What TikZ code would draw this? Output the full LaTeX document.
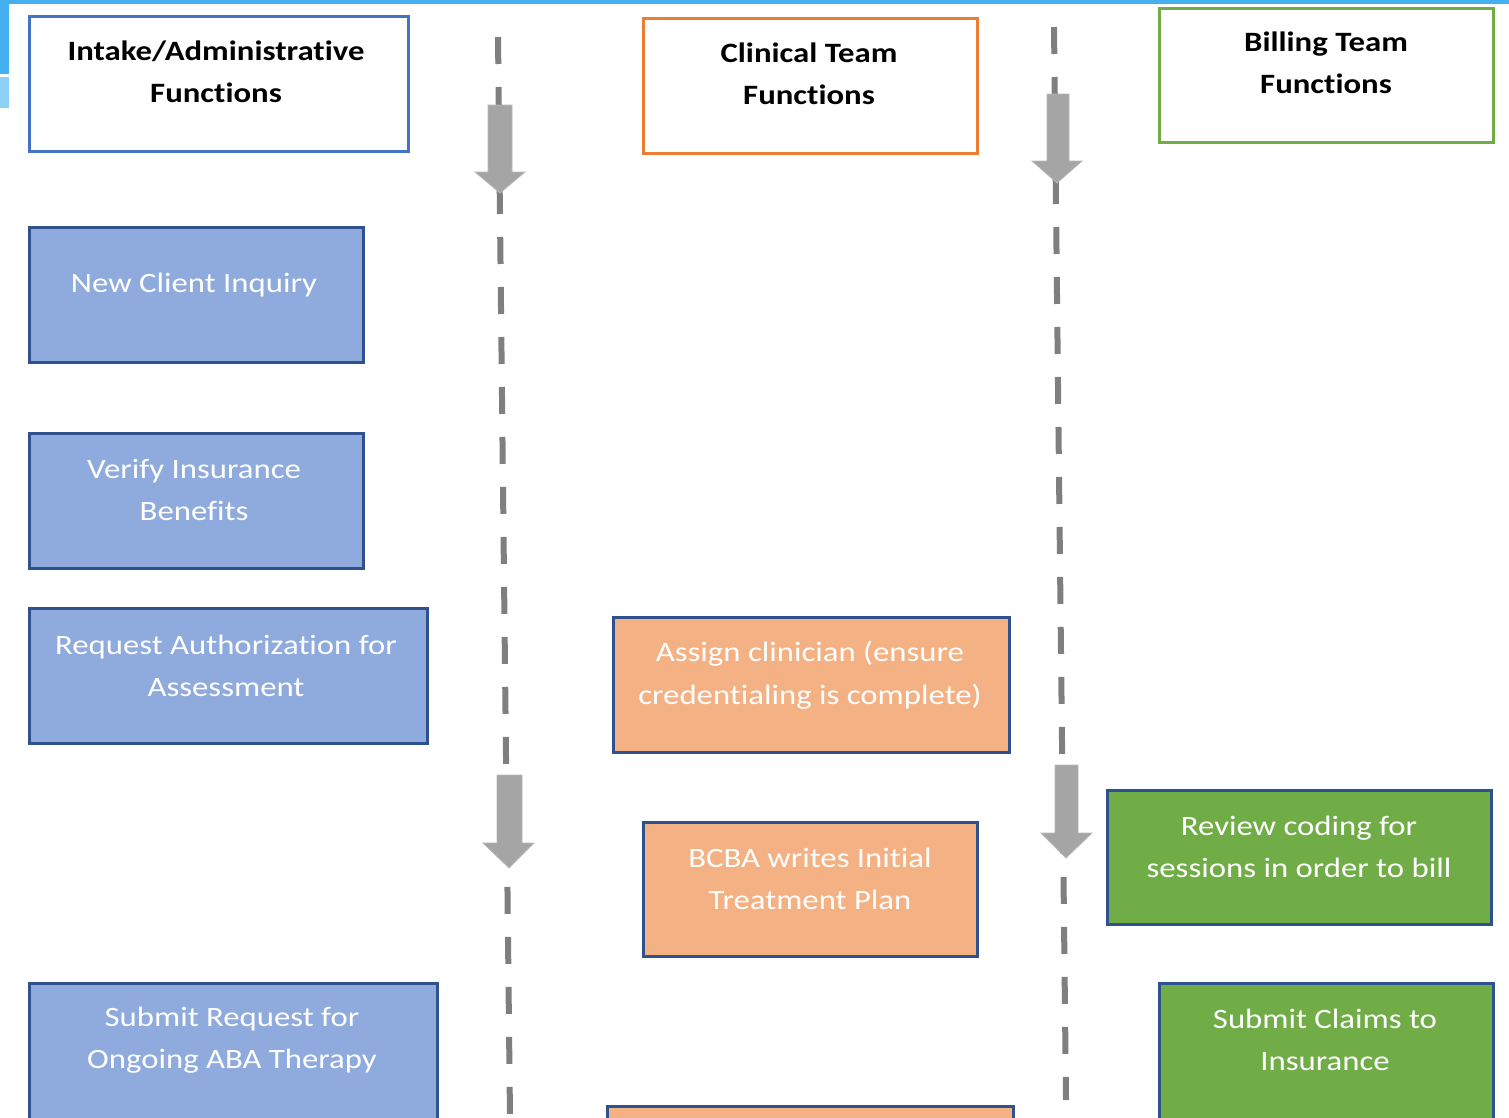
\documentclass[tikz,border=0pt]{standalone}
\usepackage{fontspec}
\setmainfont{Carlito}[FakeStretch=1.17, Ligatures={NoCommon}]
\definecolor{hdrblue}{HTML}{4472C4}
\definecolor{hdrorange}{HTML}{ED7D31}
\definecolor{hdrgreen}{HTML}{70AD47}
\definecolor{boxblue}{HTML}{8FAADC}
\definecolor{boxorange}{HTML}{F4B183}
\definecolor{boxgreen}{HTML}{70AD47}
\definecolor{boxline}{HTML}{2F528F}
\definecolor{lanegray}{HTML}{7F7F7F}
\definecolor{arrowgray}{HTML}{A5A5A5}
\definecolor{topbar}{HTML}{45B0F0}
\definecolor{topbarlight}{HTML}{8DD0F5}
\tikzset{
  hdrbox/.style={draw=#1, line width=3pt, fill=white},
  fillbox/.style={draw=boxline, line width=3pt, fill=#1},
  hdrtext/.style={font=\fontsize{28}{42.5}\selectfont\bfseries, align=center, text=black, inner sep=0pt},
  boxtext/.style={font=\fontsize{28}{42.5}\selectfont, align=center, text=white, inner sep=0pt},
  lane/.style={draw=lanegray, line width=6pt, dash pattern=on 27pt off 23pt},
  blockarrow/.style={fill=arrowgray, draw=arrowgray!80!white, line width=0.8pt}
}
\begin{document}
\begin{tikzpicture}[x=1pt,y=-1pt]
\useasboundingbox (0,0) rectangle (1509,1117);
\clip (0,0) rectangle (1509,1117);
% top decoration
\fill[topbar] (0,0) rectangle (1509,4);
\fill[topbar] (0,0) rectangle (9,74);
\fill[topbarlight] (0,77) rectangle (9,108);

% swimlane separators
\coordinate (l1top) at (498,37);
\coordinate (l1bot) at (510,1117);
\coordinate (l2top) at (1054,27);
\coordinate (l2bot) at (1066,1100);
\draw[lane] (l1top) -- (l1bot);
\draw[lane] (l2top) -- (l2bot);

% block arrows
\fill[blockarrow] (488,105) -- (512,105) -- (512,172) -- (525,172) -- (500,193) -- (475,172) -- (488,172) -- cycle;
\fill[blockarrow] (497,775) -- (522,775) -- (522,843) -- (534,843) -- (509,868) -- (483,843) -- (497,843) -- cycle;
\fill[blockarrow] (1047,94) -- (1069,94) -- (1069,161) -- (1082,161) -- (1057,183) -- (1032,161) -- (1047,161) -- cycle;
\fill[blockarrow] (1055,765) -- (1078,765) -- (1078,833) -- (1092,833) -- (1066,858) -- (1041,833) -- (1055,833) -- cycle;

% header boxes
\draw[hdrbox=hdrblue] (29,16) rectangle (408,151);
\node[hdrtext] (hintake) at (216,72) {Intake/Administrative\\Functions};
\draw[hdrbox=hdrorange] (643,18) rectangle (977,153);
\node[hdrtext] (hclin) at (809,74) {Clinical Team\\Functions};
\draw[hdrbox=hdrgreen] (1159,8) rectangle (1493,142);
\node[hdrtext] (hbill) at (1326,63) {Billing Team\\Functions};

% intake boxes
\draw[fillbox=boxblue] (29,227) rectangle (363,362);
\node[boxtext] (inq) at (194,285) {New Client Inquiry};
\draw[fillbox=boxblue] (29,433) rectangle (363,568);
\node[boxtext] (ver) at (194,490) {Verify Insurance\\Benefits};
\draw[fillbox=boxblue] (29,608) rectangle (427,743);
\node[boxtext] (auth) at (226,666) {Request Authorization for\\Assessment};
\draw[fillbox=boxblue] (29,983) rectangle (437,1130);
\node[boxtext] (ongo) at (232,1040) {Submit Request for\\Ongoing ABA Therapy};

% clinical boxes
\draw[fillbox=boxorange] (613,617) rectangle (1009,752);
\node[boxtext] (assign) at (810,675) {Assign clinician (ensure\\credentialing is complete)};
\draw[fillbox=boxorange] (643,822) rectangle (977,956);
\node[boxtext] (bcba) at (810,879) {BCBA writes Initial\\Treatment Plan};
\draw[fillbox=boxorange] (607,1106) rectangle (1013,1140);

% billing boxes
\draw[fillbox=boxgreen] (1107,790) rectangle (1491,924);
\node[boxtext] (review) at (1299,847) {Review coding for\\sessions in order to bill};
\draw[fillbox=boxgreen] (1159,983) rectangle (1493,1130);
\node[boxtext] (claims) at (1325,1040) {Submit Claims to\\Insurance};
\end{tikzpicture}
\end{document}
